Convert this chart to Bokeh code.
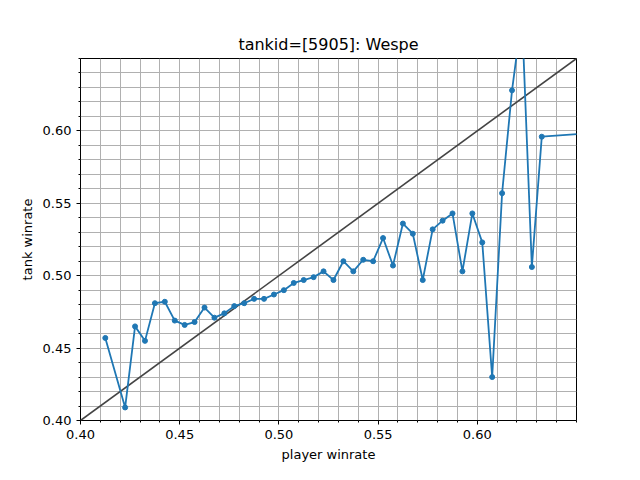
from bokeh.plotting import figure
from bokeh.embed import file_html
from bokeh.resources import INLINE
from bokeh.models import FixedTicker, Range1d, CustomJSTickFormatter

player_wr = [0.4125, 0.4225, 0.4275, 0.4325, 0.4375, 0.4425, 0.4475, 0.4525, 0.4575, 0.4625,
             0.4675, 0.4725, 0.4775, 0.4825, 0.4875, 0.4925, 0.4975, 0.5025, 0.5075, 0.5125,
             0.5175, 0.5225, 0.5275, 0.5325, 0.5375, 0.5425, 0.5475, 0.5525, 0.5575, 0.5625,
             0.5675, 0.5725, 0.5775, 0.5825, 0.5875, 0.5925, 0.5975, 0.6025, 0.6075, 0.6125,
             0.6175, 0.6225, 0.6275, 0.6325, 0.6625]
tank_wr = [0.457, 0.409, 0.465, 0.455, 0.481, 0.482, 0.469, 0.466, 0.468, 0.478,
           0.471, 0.474, 0.479, 0.481, 0.484, 0.484, 0.487, 0.490, 0.495, 0.497,
           0.499, 0.503, 0.497, 0.510, 0.503, 0.511, 0.510, 0.526, 0.507, 0.536,
           0.529, 0.497, 0.532, 0.538, 0.543, 0.503, 0.543, 0.523, 0.430, 0.557,
           0.628, 0.680, 0.506, 0.596, 0.599]
diag = [0.40, 0.65]
major_ticks = [0.40, 0.45, 0.50, 0.55, 0.60]
minor_ticks = [round(0.40 + 0.01 * i, 2) for i in range(26)]

p = figure(width=624, height=464, output_backend="svg", toolbar_location=None,
           x_range=Range1d(0.40, 0.65), y_range=Range1d(0.40, 0.65),
           title="tankid=[5905]: Wespe", min_border_left=80, min_border_right=48,
           min_border_top=58, min_border_bottom=37)
p.title.align = "center"
p.title.text_font = "DejaVu Sans"
p.title.text_font_size = "16px"
p.title.text_font_style = "normal"
p.title.text_color = "black"
p.outline_line_color = "black"
p.outline_line_width = 1

for ax, lab in ((p.xaxis, "player winrate"), (p.yaxis, "tank winrate")):
    ax.ticker = FixedTicker(ticks=major_ticks, minor_ticks=minor_ticks)
    ax.formatter = CustomJSTickFormatter(code="return tick.toFixed(2);")
    ax.axis_label = lab
    ax.axis_label_text_font = "DejaVu Sans"
    ax.axis_label_text_font_size = "13px"
    ax.axis_label_text_font_style = "normal"
    ax.axis_label_text_color = "black"
    ax.major_label_text_font = "DejaVu Sans"
    ax.major_label_text_font_size = "13px"
    ax.major_label_text_color = "black"
    ax.major_tick_out = 4
    ax.major_tick_in = 0
    ax.minor_tick_out = 2
    ax.minor_tick_in = 0
    ax.major_tick_line_color = "black"
    ax.minor_tick_line_color = "black"
    ax.axis_line_color = None

for g in (p.xgrid, p.ygrid):
    g.ticker = FixedTicker(ticks=minor_ticks)
    g.grid_line_color = "#b0b0b0"
    g.grid_line_width = 1

p.line(diag, diag, line_color="#444444", line_width=1.6)
p.line(player_wr, tank_wr, line_color="#1f77b4", line_width=1.8)
p.scatter(player_wr, tank_wr, size=5, color="#1f77b4")

open("out.html", "w").write(file_html(p, INLINE))
